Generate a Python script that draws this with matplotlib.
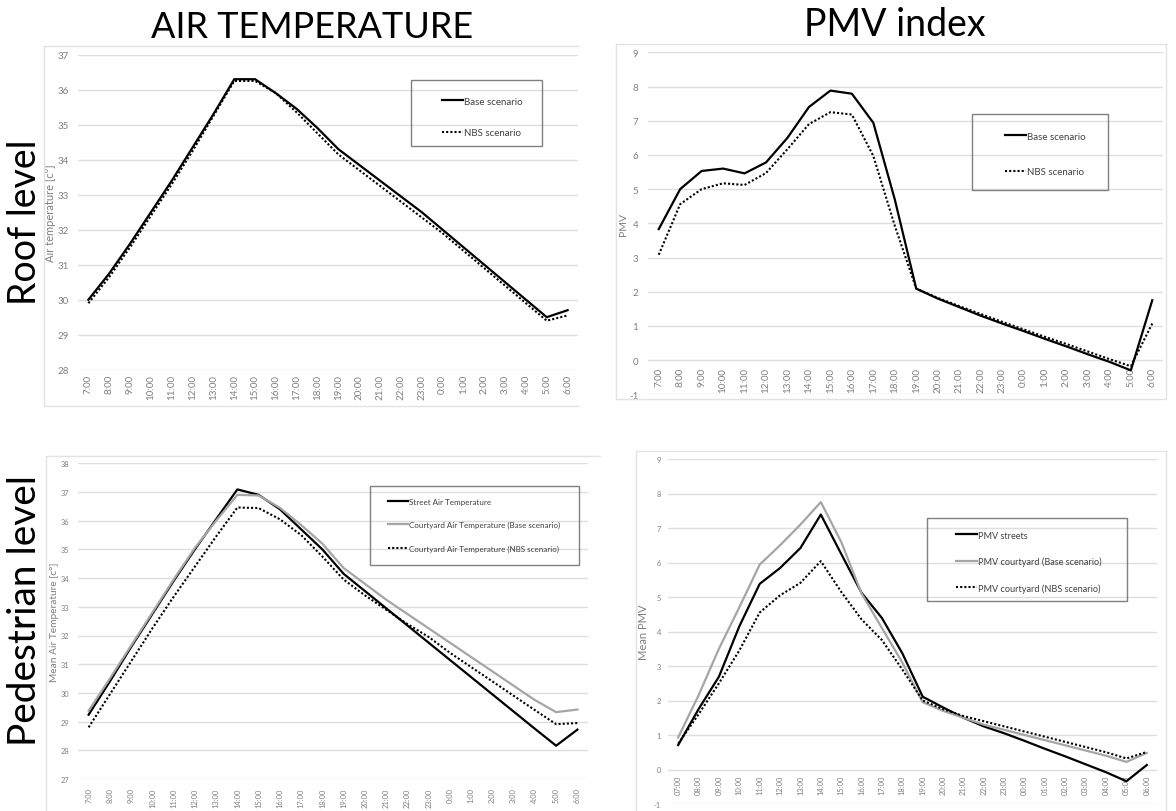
import matplotlib
matplotlib.use("Agg")
import matplotlib.pyplot as plt
from matplotlib.lines import Line2D
from matplotlib.patches import Rectangle

plt.rcParams['font.family'] = ['Lato', 'DejaVu Sans']
plt.rcParams['axes.unicode_minus'] = False

# ============================
# Data
# ============================
hours = ["7:00", "8:00", "9:00", "10:00", "11:00", "12:00", "13:00", "14:00",
         "15:00", "16:00", "17:00", "18:00", "19:00", "20:00", "21:00", "22:00",
         "23:00", "0:00", "1:00", "2:00", "3:00", "4:00", "5:00", "6:00"]
hours_zero = ["07:00", "08:00", "09:00", "10:00", "11:00", "12:00", "13:00", "14:00",
              "15:00", "16:00", "17:00", "18:00", "19:00", "20:00", "21:00", "22:00",
              "23:00", "00:00", "01:00", "02:00", "03:00", "04:00", "05:00", "06:00"]

# roof level - air temperature
roof_temp_base = [30.0, 30.75, 31.6, 32.5, 33.4, 34.35, 35.3, 36.3, 36.3, 35.9, 35.45, 34.9,
                  34.3, 33.85, 33.4, 32.95, 32.5, 32.0, 31.5, 31.0, 30.5, 30.0, 29.5, 29.7]
roof_temp_nbs = [29.9, 30.65, 31.5, 32.4, 33.3, 34.25, 35.25, 36.25, 36.25, 35.9, 35.35, 34.75,
                 34.15, 33.7, 33.25, 32.8, 32.35, 31.9, 31.4, 30.9, 30.4, 29.9, 29.4, 29.55]

# roof level - PMV
roof_pmv_base = [3.83, 5.0, 5.53, 5.6, 5.46, 5.78, 6.5, 7.4, 7.88, 7.79, 6.94, 4.7,
                 2.09, 1.8, 1.55, 1.3, 1.07, 0.85, 0.62, 0.4, 0.17, -0.05, -0.3, 1.75]
roof_pmv_nbs = [3.08, 4.56, 5.0, 5.17, 5.12, 5.47, 6.17, 6.9, 7.25, 7.18, 5.97, 3.93,
                2.09, 1.82, 1.58, 1.35, 1.12, 0.9, 0.68, 0.47, 0.25, 0.03, -0.18, 1.07]

# pedestrian level - air temperature
street_temp = [29.24, 30.4, 31.6, 32.75, 33.9, 35.0, 36.05, 37.09, 36.9, 36.4, 35.7, 35.0,
               34.15, 33.55, 32.95, 32.35, 31.75, 31.15, 30.55, 29.95, 29.35, 28.75, 28.16, 28.72]
court_temp_base = [29.38, 30.5, 31.65, 32.8, 33.95, 35.05, 36.0, 36.9, 36.88, 36.45, 35.85, 35.2,
                   34.35, 33.8, 33.25, 32.75, 32.25, 31.75, 31.25, 30.75, 30.25, 29.75, 29.33, 29.42]
court_temp_nbs = [28.8, 29.95, 31.1, 32.25, 33.35, 34.4, 35.45, 36.46, 36.44, 36.05, 35.5, 34.75,
                  33.95, 33.4, 32.9, 32.4, 31.95, 31.4, 30.9, 30.4, 29.9, 29.4, 28.91, 28.95]

# pedestrian level - PMV
street_pmv = [0.71, 1.75, 2.69, 4.15, 5.38, 5.84, 6.42, 7.39, 6.25, 5.12, 4.39, 3.37,
              2.11, 1.8, 1.5, 1.25, 1.05, 0.83, 0.6, 0.38, 0.15, -0.08, -0.34, 0.13]
court_pmv_base = [0.93, 2.15, 3.5, 4.7, 5.94, 6.5, 7.1, 7.75, 6.6, 5.1, 4.1, 3.1,
                  1.95, 1.7, 1.5, 1.3, 1.15, 1.0, 0.85, 0.7, 0.55, 0.4, 0.22, 0.48]
court_pmv_nbs = [0.75, 1.6, 2.5, 3.45, 4.55, 5.05, 5.41, 6.04, 5.15, 4.35, 3.75, 2.9,
                 2.0, 1.75, 1.55, 1.4, 1.25, 1.1, 0.95, 0.8, 0.65, 0.5, 0.32, 0.51]

W, H = 1176, 812
TICK_GREY = "#7f7f7f"
GRID_GREY = "#dedede"
LINE_GREY = "#a5a5a5"
SOLID = dict(color="black", lw=1.6, ls="-")
DOTTED = dict(color="black", lw=1.5, ls=(0, (1, 1)))
GREY = dict(color=LINE_GREY, lw=1.6, ls="-")

fig = plt.figure(figsize=(W / 100, H / 100), dpi=100)


def px_rect(l, t, r, b):
    return [l / W, 1 - b / H, (r - l) / W, (b - t) / H]


def fx(x):
    return x / W


def fy(y):
    return 1 - y / H


# ============================
# Excel-like panel
# ============================
def make_panel(box, ylim, labels, ylabel, ylabel_x, fs, lab_fs, xpad, ypad, zero_axis=False):
    ax = fig.add_axes(px_rect(*box))
    for s in ax.spines.values():
        s.set_visible(False)
    if zero_axis:
        # category labels sit on the y = 0 line, like the Excel charts
        ax.spines["bottom"].set_position(("data", 0))
    ax.set_xlim(-0.5, len(labels) - 0.5)
    ax.set_ylim(*ylim)
    ax.set_yticks(range(ylim[0], ylim[1] + 1))
    ax.set_xticks(range(len(labels)))
    ax.set_xticklabels(labels)
    ax.tick_params(axis="both", length=0, labelsize=fs, colors=TICK_GREY)
    ax.tick_params(axis="x", pad=xpad, labelrotation=90)
    ax.tick_params(axis="y", pad=ypad)
    ax.grid(True, axis="y", color=GRID_GREY, lw=1)
    ax.set_axisbelow(True)
    ax.set_ylabel(ylabel, fontsize=lab_fs, color=TICK_GREY)
    l, t, r, b = box
    ax.yaxis.set_label_coords((ylabel_x - l) / (r - l), 0.5)
    return ax


def add_legend(ax, handles, names, frame, handle_x, top_y, fs, hlen, spacing):
    ax.legend(handles, names, loc="upper left", bbox_to_anchor=(fx(handle_x), fy(top_y)),
              bbox_transform=fig.transFigure, frameon=False, borderpad=0,
              handlelength=hlen, handletextpad=0.15, labelspacing=spacing,
              prop={"size": fs}, labelcolor="#404040")
    l, t, r, b = frame
    fig.patches.append(Rectangle((fx(l), fy(b)), fx(r - l), (b - t) / H,
                                 transform=fig.transFigure, fill=False,
                                 ec="#808080", lw=1))


def chart_border(l, t, r, b, right=True):
    xs = [fx(r), fx(l), fx(l), fx(r)] if not right else [fx(r), fx(l), fx(l), fx(r), fx(r)]
    ys = [fy(t), fy(t), fy(b), fy(b)] if not right else [fy(t), fy(t), fy(b), fy(b), fy(t)]
    fig.lines.append(Line2D(xs, ys, transform=fig.transFigure, color="#e2e2e2", lw=1))


x = range(len(hours))

# ---- top left: roof air temperature
chart_border(44, 47, 578, 407, right=False)
ax1 = make_panel((78, 55.7, 578, 370.7), (28, 37), hours, "Air temperature [c°]", 56,
                 7, 8, 3, 6.5)
h1, = ax1.plot(x, roof_temp_base, **SOLID)
h2, = ax1.plot(x, roof_temp_nbs, **DOTTED)
add_legend(ax1, [h1, h2], ["Base scenario", "NBS scenario"], (411, 81, 542, 147),
           437, 93, 7, 2.15, 2.3)

# ---- top right: roof PMV
chart_border(616, 45, 1166, 400)
ax2 = make_panel((648, 53.3, 1163, 395.3), (-1, 9), hours, "PMV", 628, 7, 7.5, 5, 7,
                 zero_axis=True)
h1, = ax2.plot(x, roof_pmv_base, **SOLID)
h2, = ax2.plot(x, roof_pmv_nbs, **DOTTED)
add_legend(ax2, [h1, h2], ["Base scenario", "NBS scenario"], (972, 115, 1108, 191),
           1000, 128, 7, 2.15, 2.7)

# ---- bottom left: pedestrian air temperature
chart_border(46, 457, 600, 830, right=False)
ax3 = make_panel((78, 464.3, 588, 780), (27, 38), hours, "Mean Air Temperature [c°]", 59,
                 5.4, 7.3, 6, 6.5)
h1, = ax3.plot(x, street_temp, **SOLID)
h2, = ax3.plot(x, court_temp_base, **GREY)
h3, = ax3.plot(x, court_temp_nbs, **DOTTED)
add_legend(ax3, [h1, h2, h3],
           ["Street Air Temperature", "Courtyard Air Temperature (Base scenario)",
            "Courtyard Air Temperature (NBS scenario)"],
           (370, 487, 579, 566), 384, 495, 5.8, 2.5, 2.0)

# ---- bottom right: pedestrian PMV
chart_border(636, 452, 1166, 830)
ax4 = make_panel((668, 460, 1157, 805), (-1, 9), hours_zero, "Mean PMV", 649, 5.4, 8, 4, 5,
                 zero_axis=True)
h1, = ax4.plot(x, street_pmv, **SOLID)
h2, = ax4.plot(x, court_pmv_base, **GREY)
h3, = ax4.plot(x, court_pmv_nbs, **DOTTED)
add_legend(ax4, [h1, h2, h3],
           ["PMV streets", "PMV courtyard (Base scenario)", "PMV courtyard (NBS scenario)"],
           (927, 519, 1127, 602), 951, 527, 6.6, 2.3, 1.85)

# ============================
# Row / column headings
# ============================
fig.text(fx(312), fy(28), "AIR TEMPERATURE", fontsize=26, ha="center", va="center")
fig.text(fx(895), fy(25), "PMV index", fontsize=27, ha="center", va="center")
fig.text(fx(25), fy(222), "Roof level", fontsize=27, rotation=90, ha="center", va="center")
fig.text(fx(25), fy(610), "Pedestrian level", fontsize=28, rotation=90, ha="center", va="center")

fig.savefig("out.png", dpi=100)
